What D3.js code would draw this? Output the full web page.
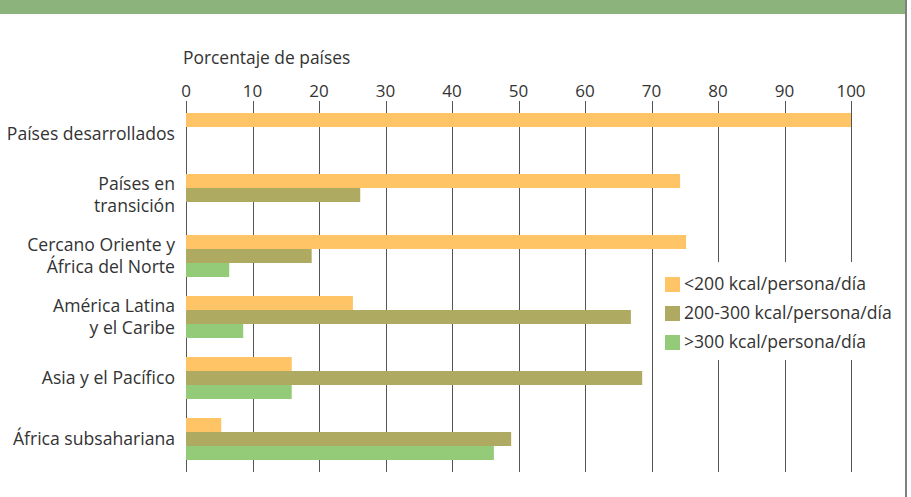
<!DOCTYPE html>
<html>
<head>
    <meta charset="utf-8">
    <title>Porcentaje de países</title>
    <script src="https://d3js.org/d3.v7.min.js"></script>
    <style>
        body { margin: 0; background: #fff; }
        svg text { font-family: "Open Sans", sans-serif; fill: #333; }
    </style>
</head>
<body>
    <svg width="911" height="497" id="chart"></svg>

    <script>
        // Data
        const categories = [
            ["Países desarrollados"],
            ["Países en", "transición"],
            ["Cercano Oriente y", "África del Norte"],
            ["América Latina", "y el Caribe"],
            ["Asia y el Pacífico"],
            ["África subsahariana"]
        ];
        const seriesNames = ["<200 kcal/persona/día", "200-300 kcal/persona/día", ">300 kcal/persona/día"];
        const low = [100, 74.3, 75.2, 25.1, 15.9, 5.3];
        const mid = [0, 26.2, 18.9, 66.9, 68.6, 48.9];
        const high = [0, 0, 6.5, 8.6, 15.9, 46.3];
        const ticks = [0, 10, 20, 30, 40, 50, 60, 70, 80, 90, 100];
        const colors = ["#fec466", "#afaa62", "#93cb78"];

        const seriesValues = [low, mid, high];
        const svg = d3.select("#chart");

        // Top band and frame line
        svg.append("rect").attr("x", 0).attr("y", 0).attr("width", 905).attr("height", 14).attr("fill", "#8bb37b");
        svg.append("line").attr("x1", 906).attr("x2", 906).attr("y1", 0).attr("y2", 497)
            .attr("stroke", "#555").attr("stroke-width", 1.5);

        const x = d3.scaleLinear().domain([0, 100]).range([186, 851]);
        const keys = categories.map(c => c.join(" "));
        const y = d3.scaleBand().domain(keys).range([113, 460]).paddingInner(19 / 61).paddingOuter(0);
        const ySub = d3.scaleBand().domain(d3.range(3)).range([0, y.bandwidth()]);

        // Gridlines
        svg.append("g").selectAll("line").data(ticks).enter().append("line")
            .attr("x1", d => Math.round(x(d)) + 0.5)
            .attr("x2", d => Math.round(x(d)) + 0.5)
            .attr("y1", 101).attr("y2", 472)
            .attr("stroke", "#555").attr("stroke-width", 1);

        // Tick labels
        svg.append("g").selectAll("text").data(ticks).enter().append("text")
            .attr("x", d => x(d)).attr("y", 97)
            .attr("text-anchor", "middle")
            .attr("font-size", "17px")
            .text(d => d);

        svg.append("text").attr("x", 183).attr("y", 64).attr("font-size", "17.4px").text("Porcentaje de países");

        // Bars
        const groups = svg.append("g").selectAll("g").data(keys).enter().append("g")
            .attr("transform", d => `translate(0,${y(d)})`);
        groups.selectAll("rect")
            .data((d, i) => seriesValues.map((s, j) => ({ s: j, v: s[i] })).filter(e => e.v > 0))
            .enter().append("rect")
            .attr("x", x(0))
            .attr("y", d => ySub(d.s))
            .attr("width", d => x(d.v) - x(0))
            .attr("height", ySub.bandwidth())
            .attr("fill", d => colors[d.s]);

        // Category labels
        categories.forEach((lines, i) => {
            const cy = y(keys[i]) + y.bandwidth() / 2;
            const t = svg.append("text").attr("text-anchor", "end").attr("font-size", "17.6px");
            lines.forEach((ln, k) => {
                t.append("tspan").attr("x", 175)
                    .attr("y", cy + 6 + (k - (lines.length - 1) / 2) * 22)
                    .text(ln);
            });
        });

        // Legend
        const legend = svg.append("g");
        legend.append("rect").attr("x", 653).attr("y", 262).attr("width", 252).attr("height", 98).attr("fill", "#fff");
        seriesNames.forEach((name, i) => {
            legend.append("rect").attr("x", 665).attr("y", 277 + i * 29).attr("width", 15).attr("height", 15).attr("fill", colors[i]);
            legend.append("text").attr("x", 684).attr("y", 290 + i * 29).attr("font-size", "17.6px").text(name);
        });
    </script>
</body>
</html>
